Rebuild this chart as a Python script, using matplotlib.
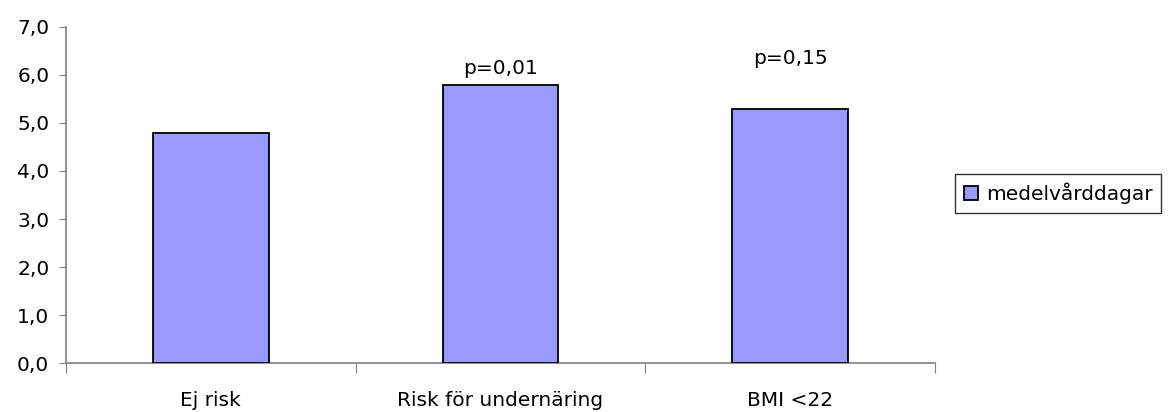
import matplotlib.pyplot as plt
from matplotlib.ticker import FixedLocator, FuncFormatter

plt.rcParams['font.family'] = ['DejaVu Sans']
fs = 14.5

categories = ["Ej risk", "Risk för undernäring", "BMI <22"]
medelvarddagar = [4.8, 5.8, 5.3]
p_labels = [None, "p=0,01", "p=0,15"]
p_heights = [None, 6.03, 6.22]

fig = plt.figure(figsize=(11.68, 4.12), dpi=100)
ax = fig.add_axes([0.0565, 0.1189, 0.744, 0.8156])

x = range(len(categories))
ax.bar(x, medelvarddagar, width=0.4, color="#9999FF", edgecolor="black",
       linewidth=1.3, label="medelvårddagar", zorder=3)

for i, (txt, h) in enumerate(zip(p_labels, p_heights)):
    if txt:
        ax.text(i, h, txt, ha="center", va="baseline", fontsize=fs)

ax.set_xlim(-0.5, 2.5)
ax.set_ylim(0, 7)
ax.set_yticks([0, 1, 2, 3, 4, 5, 6, 7])
ax.yaxis.set_major_formatter(FuncFormatter(lambda v, _: f"{v:.1f}".replace(".", ",")))

# tick marks on the category boundaries, names at the centres
ax.xaxis.set_major_locator(FixedLocator([-0.5, 0.5, 1.5, 2.5]))
ax.xaxis.set_major_formatter(FuncFormatter(lambda v, _: ""))
ax.xaxis.set_minor_locator(FixedLocator(list(x)))
ax.set_xticklabels(categories, minor=True)
ax.tick_params(axis="x", which="major", length=7, color="#808080")
ax.tick_params(axis="x", which="minor", length=0, pad=20, labelsize=fs)
ax.tick_params(axis="y", length=5, color="#808080", labelsize=fs, pad=7)

for side in ("top", "right"):
    ax.spines[side].set_visible(False)
for side in ("left", "bottom"):
    ax.spines[side].set_color("#808080")
    ax.spines[side].set_linewidth(1.2)

leg = ax.legend(loc="center left", bbox_to_anchor=(1.0225, 0.5045), fontsize=14.5,
                frameon=True, fancybox=False, edgecolor="black",
                handlelength=0.7, handleheight=0.7, handletextpad=0.4,
                borderpad=0.45, borderaxespad=0)
leg.get_frame().set_linewidth(1.0)

fig.savefig("out.png", dpi=100)
